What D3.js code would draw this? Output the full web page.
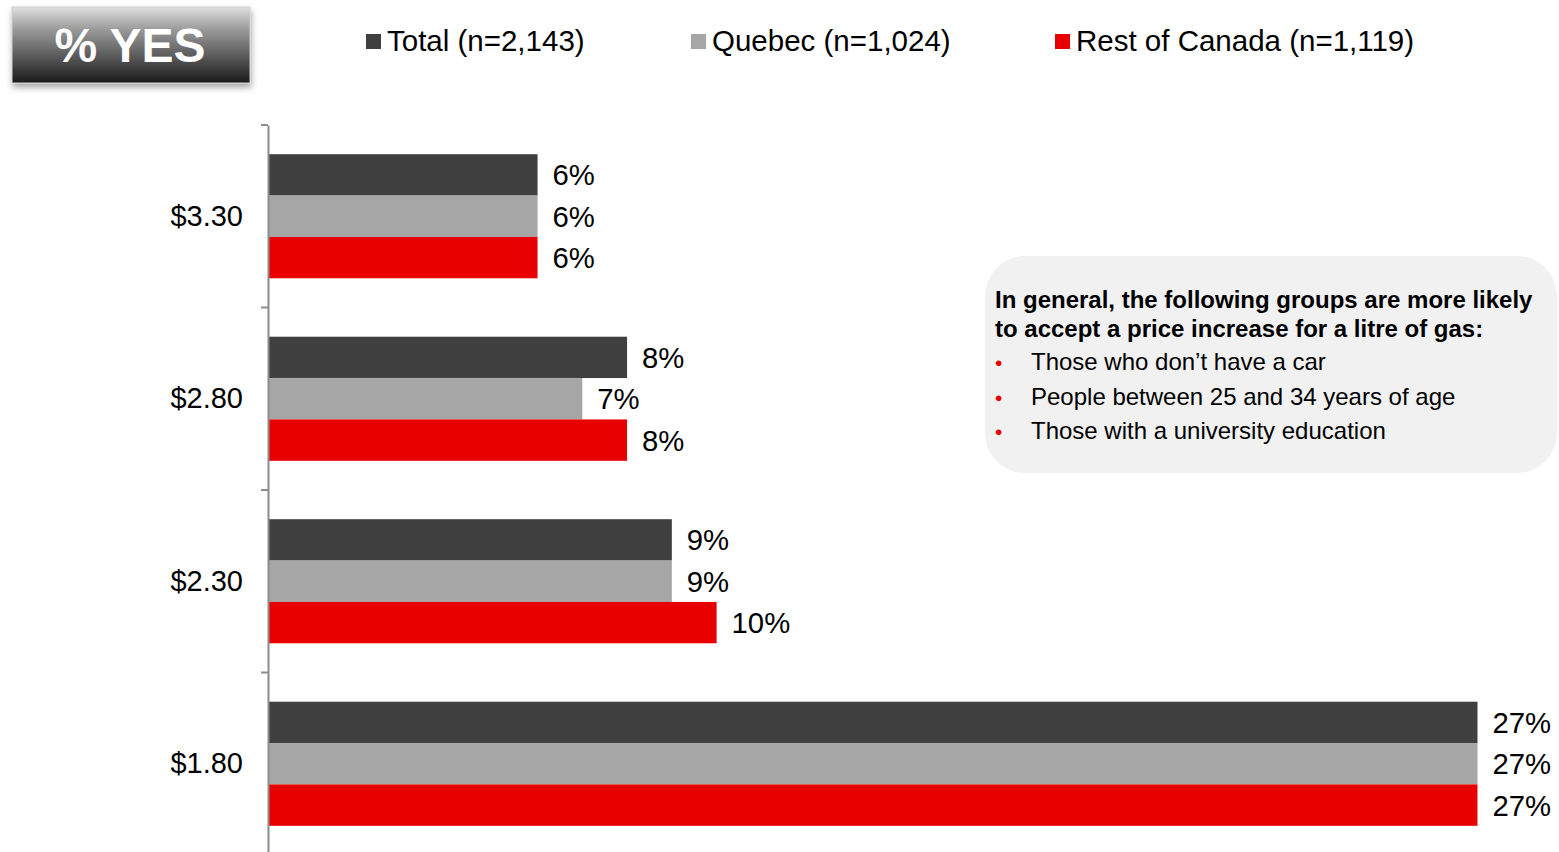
<!DOCTYPE html>
<html>
<head>
<meta charset="utf-8">
<script src="https://cdn.jsdelivr.net/npm/d3@7"></script>
<style>
  body { margin:0; background:#fff; font-family:"Liberation Sans", Arial, sans-serif; }
</style>
</head>
<body>
<div id="chart"></div>
<script>
// data
const categories = ["$3.30", "$2.80", "$2.30", "$1.80"];
const seriesNames = ["Total (n=2,143)", "Quebec (n=1,024)", "Rest of Canada (n=1,119)"];
const totalValues = [6, 8, 9, 27];
const quebecValues = [6, 7, 9, 27];
const restValues = [6, 8, 10, 27];
const noteTitle = ["In general, the following groups are more likely", "to accept a price increase for a litre of gas:"];
const noteBullets = ["Those who don\u2019t have a car", "People between 25 and 34 years of age", "Those with a university education"];

const colors = ["#404040", "#a6a6a6", "#e80000"];
const width = 1559, height = 852;

const data = categories.map((c, i) => ({
  cat: c,
  vals: [totalValues[i], quebecValues[i], restValues[i]]
}));

const svg = d3.select('#chart').append('svg')
  .attr('width', width).attr('height', height);

// scales
const yscale = d3.scaleBand()
  .domain(categories)
  .range([125, 855])
  .paddingInner(0.32)
  .paddingOuter(0.16);
const inner = d3.scaleBand()
  .domain([0, 1, 2])
  .range([0, yscale.bandwidth()]);
const xscale = d3.scaleLinear()
  .domain([0, 27])
  .range([269, 1477.5]);

// title button
const defs = svg.append('defs');
const grad = defs.append('linearGradient').attr('id', 'btn').attr('x1', 0).attr('y1', 0).attr('x2', 0).attr('y2', 1);
grad.append('stop').attr('offset', '0%').attr('stop-color', '#e0e0e0');
grad.append('stop').attr('offset', '30%').attr('stop-color', '#999');
grad.append('stop').attr('offset', '100%').attr('stop-color', '#1a1a1a');
const shadow = defs.append('filter').attr('id', 'sh').attr('x', '-10%').attr('y', '-10%').attr('width', '130%').attr('height', '150%');
shadow.append('feDropShadow').attr('dx', 1).attr('dy', 4).attr('stdDeviation', 3).attr('flood-color', '#000').attr('flood-opacity', 0.35);

svg.append('rect')
  .attr('x', 12).attr('y', 7).attr('width', 238).attr('height', 76)
  .attr('fill', 'url(#btn)').attr('stroke', '#cfcfcf').attr('stroke-width', 1)
  .attr('filter', 'url(#sh)');
svg.append('text')
  .attr('x', 130).attr('y', 62)
  .attr('text-anchor', 'middle')
  .attr('fill', '#fff').attr('font-weight', 'bold').attr('font-size', 48)
  .text('% YES');

// legend
const legendX = [366, 691, 1055];
const legend = svg.selectAll('.legend')
  .data(seriesNames)
  .join('g')
  .attr('class', 'legend')
  .attr('transform', (d, i) => `translate(${legendX[i]},34)`);
legend.append('rect')
  .attr('width', 15).attr('height', 15)
  .attr('fill', (d, i) => colors[i]);
legend.append('text')
  .attr('x', 21).attr('y', 17)
  .attr('font-size', 29.5).attr('fill', '#000')
  .text(d => d);

// bars
const groups = svg.selectAll('.grp')
  .data(data)
  .join('g')
  .attr('class', 'grp')
  .attr('transform', d => `translate(0,${yscale(d.cat)})`);

groups.selectAll('rect')
  .data(d => d.vals)
  .join('rect')
  .attr('x', xscale(0))
  .attr('y', (d, i) => inner(i))
  .attr('height', inner.bandwidth())
  .attr('width', d => xscale(d) - xscale(0))
  .attr('fill', (d, i) => colors[i]);

groups.selectAll('text')
  .data(d => d.vals)
  .join('text')
  .attr('x', d => xscale(d) + 15)
  .attr('y', (d, i) => inner(i) + inner.bandwidth() / 2)
  .attr('dy', '0.36em')
  .attr('font-size', 29.3)
  .text(d => d + '%');

// axis
const yaxis = d3.axisLeft(yscale).tickSize(0).tickPadding(25);
const ax = svg.append('g')
  .attr('transform', `translate(268,0)`)
  .call(yaxis);
ax.select('.domain').attr('stroke', '#8c8c8c').attr('stroke-width', 2);
ax.selectAll('text').attr('font-size', 29).attr('fill', '#000')
  .attr('font-family', '"Liberation Sans", Arial, sans-serif');

// boundary ticks between categories
const step = yscale.step();
const bounds = d3.range(categories.length + 1).map(i => yscale.range()[0] + i * step);
ax.selectAll('.bound')
  .data(bounds)
  .join('line')
  .attr('class', 'bound')
  .attr('x1', -7).attr('x2', 0)
  .attr('y1', d => d).attr('y2', d => d)
  .attr('stroke', '#8c8c8c').attr('stroke-width', 2);

// note box
const note = svg.append('g').attr('transform', 'translate(985,256)');
note.append('rect')
  .attr('width', 572).attr('height', 217)
  .attr('rx', 40).attr('ry', 40)
  .attr('fill', '#f1f1f1');
note.selectAll('.nt')
  .data(noteTitle)
  .join('text')
  .attr('class', 'nt')
  .attr('x', 10).attr('y', (d, i) => 52 + i * 29)
  .attr('font-weight', 'bold').attr('font-size', 24)
  .text(d => d);
const bl = note.selectAll('.bl')
  .data(noteBullets)
  .join('g')
  .attr('class', 'bl')
  .attr('transform', (d, i) => `translate(0,${114 + i * 34.5})`);
bl.append('text')
  .attr('x', 10).attr('font-size', 21).attr('fill', '#e80000')
  .text('\u2022');
bl.append('text')
  .attr('x', 46).attr('font-size', 24).attr('fill', '#000')
  .text(d => d);
</script>
</body>
</html>
